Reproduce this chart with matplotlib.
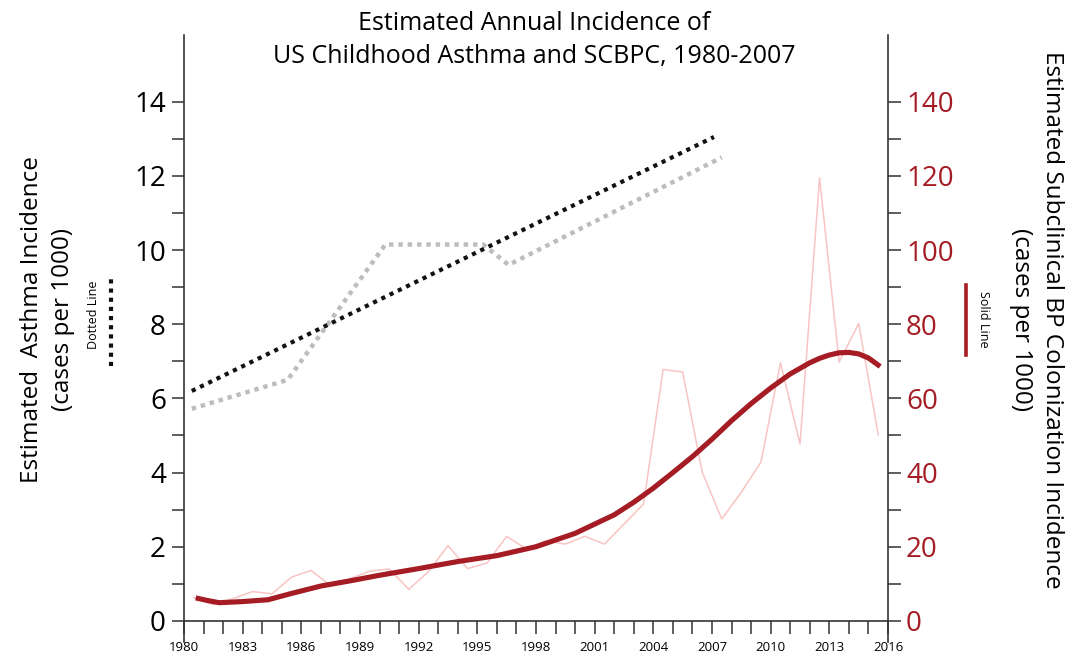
import numpy as np
import matplotlib
matplotlib.use('Agg')
import matplotlib.pyplot as plt
from matplotlib.ticker import MultipleLocator

plt.rcParams['font.family'] = ['Open Sans', 'DejaVu Sans']

# asthma incidence (cases per 1000), left axis
asthma_years = [1980.4, 2007.1]
asthma_fit = [6.2, 13.05]
asthma_alt_years = [1980.4, 1985.3, 1990.3, 1995.3, 1996.6, 2007.5]
asthma_alt = [5.72, 6.5, 10.15, 10.15, 9.6, 12.5]

# subclinical BP colonization (cases per 1000), right axis
bp_years = [1980.5, 1981.5, 1982.5, 1983.5, 1984.5, 1985.5, 1986.5, 1987.5,
            1988.5, 1989.5, 1990.5, 1991.5, 1992.5, 1993.5, 1994.5, 1995.5,
            1996.5, 1997.5, 1998.5, 1999.5, 2000.5, 2001.5, 2002.5, 2003.5,
            2004.5, 2005.5, 2006.5, 2007.5, 2008.5, 2009.5, 2010.5, 2011.5,
            2012.5, 2013.5, 2014.5, 2015.5]
bp_raw = [6.3, 4.4, 6.0, 7.9, 7.3, 11.8, 13.6, 9.5,
          11.4, 13.4, 14.0, 8.5, 13.3, 20.3, 14.1, 15.6,
          22.8, 19.4, 21.6, 20.7, 22.8, 20.7, 26.1, 31.5,
          67.8, 67.1, 40.1, 27.5, 34.7, 42.8, 69.6, 47.7,
          119.5, 69.8, 80.2, 50.2]
bp_fit_years = [1980.6, 1981.2, 1981.8, 1983.0, 1984.3, 1985.5, 1987.0, 1988.5,
                1990.0, 1992.0, 1994.0, 1996.0, 1998.0, 2000.0, 2002.0, 2003.0,
                2004.0, 2005.0, 2006.0, 2007.0, 2008.0, 2009.0, 2010.0, 2011.0,
                2012.0, 2012.5, 2013.0, 2013.5, 2014.0, 2014.5, 2015.0, 2015.6]
bp_fit = [6.2, 5.5, 4.9, 5.2, 5.7, 7.4, 9.4, 10.8,
          12.3, 14.1, 16.0, 17.6, 20.0, 23.6, 28.6, 32.0,
          35.8, 40.0, 44.3, 49.0, 54.0, 58.6, 62.8, 66.6,
          69.6, 70.8, 71.7, 72.3, 72.4, 72.0, 70.9, 68.6]

red = '#a51c24'
pink = '#f8c4c4'
axcol = '#333333'

fig = plt.figure(figsize=(10.69, 6.62), dpi=100)
ax1 = fig.add_axes([0.1721, 0.0302, 0.6586, 0.9169])
ax2 = ax1.twinx()

# right axis series first so the dotted lines sit on top
ax2.plot(bp_years, bp_raw, color=pink, lw=1.1, zorder=1)
ax2.plot(bp_fit_years, bp_fit, color=red, lw=3.7, solid_joinstyle='round',
         solid_capstyle='butt', zorder=2)

ax1.set_zorder(ax2.get_zorder() + 1)
ax1.patch.set_visible(False)
ax1.plot(asthma_alt_years, asthma_alt, color='#bdbdbd', lw=3.2,
         linestyle=(0, (1, 1.1)), dash_capstyle='butt', zorder=2)
ax1.plot(asthma_years, asthma_fit, color='#111111', lw=3.0,
         linestyle=(0, (1, 1.2)), dash_capstyle='butt', zorder=3)

ax1.set_xlim(1980, 2016)
ax1.set_ylim(-0.57, 15.8)
ax2.set_ylim(-5.7, 158)

for s in ['top', 'right']:
    ax1.spines[s].set_visible(False)
for s in ['top', 'left', 'bottom']:
    ax2.spines[s].set_visible(False)
ax1.spines['bottom'].set_position(('data', 0))
for sp in [ax1.spines['left'], ax1.spines['bottom'], ax2.spines['right']]:
    sp.set_color(axcol)
    sp.set_linewidth(1.2)

ax1.xaxis.set_minor_locator(MultipleLocator(1))
ax1.set_xticks(np.arange(1980, 2017, 3))
ax1.set_xticklabels([str(y) for y in range(1980, 2017, 3)], fontsize=9.5)
ax1.tick_params(axis='x', which='both', direction='out', length=9.5,
                width=1.1, color=axcol, pad=5)

ax1.set_yticks(np.arange(0, 15, 2))
ax1.set_yticks(np.arange(1, 14, 2), minor=True)
ax1.tick_params(axis='y', which='both', direction='out', length=9,
                width=1.1, color=axcol, labelsize=20, pad=4)

ax2.set_yticks(np.arange(0, 150, 20))
ax2.set_yticks(np.arange(10, 140, 20), minor=True)
ax2.tick_params(axis='y', which='both', direction='out', length=9,
                width=1.1, color=axcol, labelsize=20, labelcolor=red, pad=4)

fig.text(0.4995, 0.940, 'Estimated Annual Incidence of\nUS Childhood Asthma and SCBPC, 1980-2007',
         ha='center', va='center', fontsize=18, linespacing=1.4)

fig.text(0.0444, 0.517, 'Estimated  Asthma Incidence\n(cases per 1000)',
         rotation=90, ha='center', va='center', fontsize=17.5,
         linespacing=1.4, multialignment='center')
fig.text(0.9696, 0.517, 'Estimated Subclinical BP Colonization Incidence\n(cases per 1000)',
         rotation=-90, ha='center', va='center', fontsize=17.5,
         linespacing=1.4, multialignment='center')

# line keys beside each axis label
fig.text(0.087, 0.524, 'Dotted Line', rotation=90, ha='center', va='center', fontsize=9)
fig.add_artist(plt.Line2D([0.1038, 0.1038], [1 - 366 / 662, 1 - 276 / 662],
                          transform=fig.transFigure, color='#111111', lw=3.0,
                          linestyle=(0, (1, 1.2)), dash_capstyle='butt'))
fig.text(0.920, 0.518, 'Solid Line', rotation=-90, ha='center', va='center', fontsize=9)
fig.add_artist(plt.Line2D([0.9036, 0.9036], [1 - 355 / 662, 1 - 285 / 662],
                          transform=fig.transFigure, color=red, lw=2.6))

fig.savefig('out.png', dpi=100)
